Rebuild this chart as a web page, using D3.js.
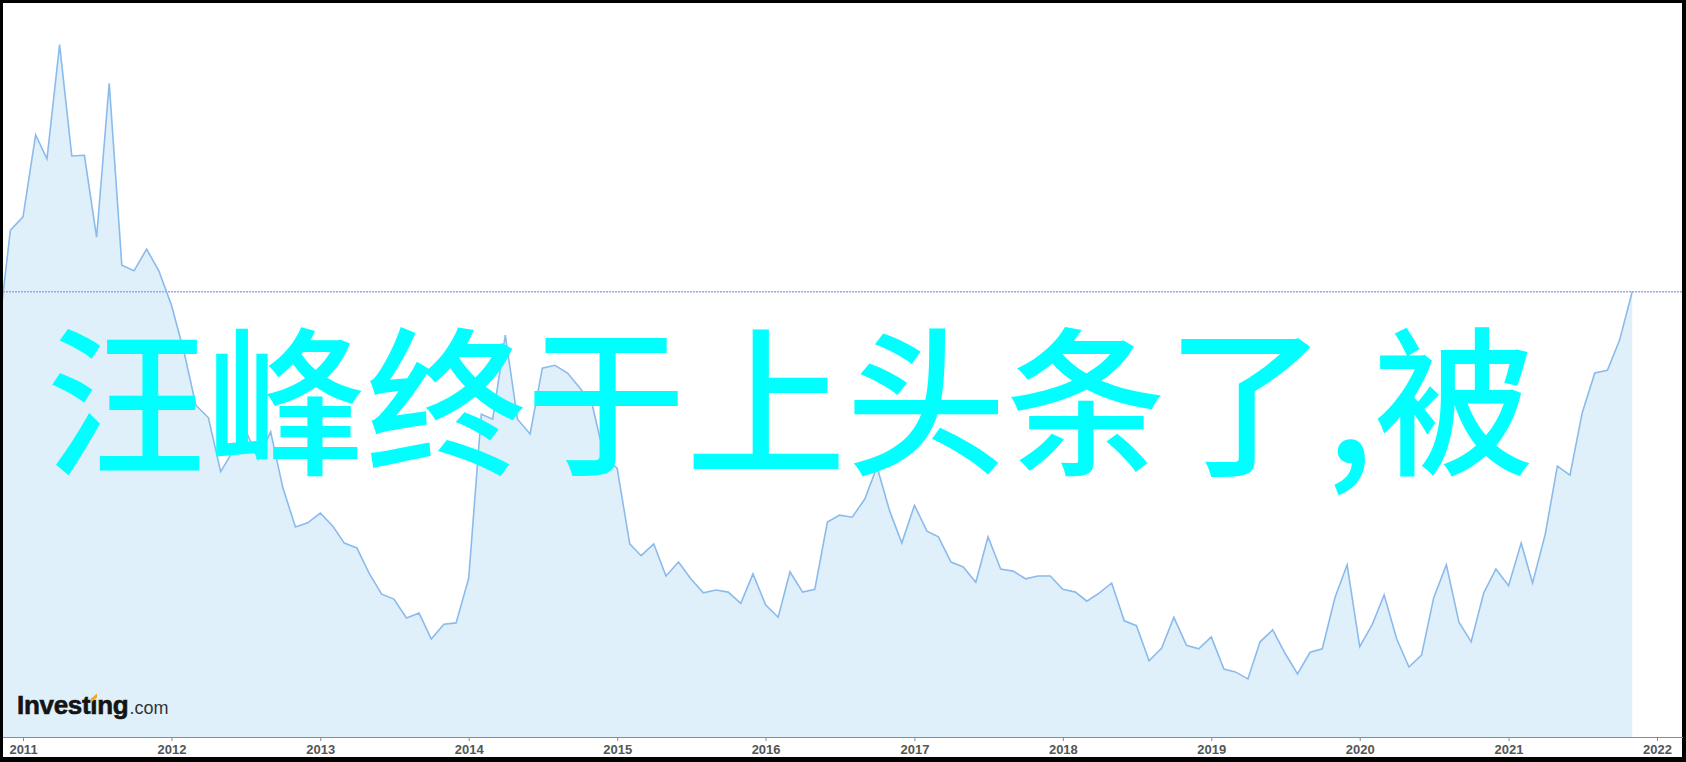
<!DOCTYPE html>
<html>
<head>
<meta charset="utf-8">
<script src="https://cdn.jsdelivr.net/npm/d3@7/dist/d3.min.js"></script>
<style>
  html, body { margin: 0; padding: 0; background: #000; }
  svg { display: block; }
</style>
</head>
<body>
<svg id="chart" width="1686" height="762"></svg>
<script>
// ---- data ----
const months = [
  "2010-11","2010-12",
  "2011-01","2011-02","2011-03","2011-04","2011-05","2011-06","2011-07","2011-08","2011-09","2011-10","2011-11","2011-12",
  "2012-01","2012-02","2012-03","2012-04","2012-05","2012-06","2012-07","2012-08","2012-09","2012-10","2012-11","2012-12",
  "2013-01","2013-02","2013-03","2013-04","2013-05","2013-06","2013-07","2013-08","2013-09","2013-10","2013-11","2013-12",
  "2014-01","2014-02","2014-03","2014-04","2014-05","2014-06","2014-07","2014-08","2014-09","2014-10","2014-11","2014-12",
  "2015-01","2015-02","2015-03","2015-04","2015-05","2015-06","2015-07","2015-08","2015-09","2015-10","2015-11","2015-12",
  "2016-01","2016-02","2016-03","2016-04","2016-05","2016-06","2016-07","2016-08","2016-09","2016-10","2016-11","2016-12",
  "2017-01","2017-02","2017-03","2017-04","2017-05","2017-06","2017-07","2017-08","2017-09","2017-10","2017-11","2017-12",
  "2018-01","2018-02","2018-03","2018-04","2018-05","2018-06","2018-07","2018-08","2018-09","2018-10","2018-11","2018-12",
  "2019-01","2019-02","2019-03","2019-04","2019-05","2019-06","2019-07","2019-08","2019-09","2019-10","2019-11","2019-12",
  "2020-01","2020-02","2020-03","2020-04","2020-05","2020-06","2020-07","2020-08","2020-09","2020-10","2020-11","2020-12",
  "2021-01","2021-02","2021-03","2021-04","2021-05","2021-06","2021-07","2021-08","2021-09","2021-10","2021-11"
];
const values = [
  57.4, 72.4,
  74.3, 86.0, 82.6, 98.9, 83.0, 83.1, 71.4, 93.4, 67.4, 66.6, 69.7, 66.6,
  61.7, 55.0, 47.4, 45.6, 37.9, 40.9, 43.9, 39.7, 43.6, 35.6, 30.0, 30.6,
  32.0, 30.1, 27.7, 27.0, 23.4, 20.4, 19.7, 17.0, 17.7, 14.0, 16.1, 16.3,
  22.7, 46.1, 45.4, 57.4, 45.4, 43.3, 52.7, 53.1, 52.0, 49.9, 47.4, 39.9,
  38.4, 27.6, 25.9, 27.6, 23.0, 25.0, 22.6, 20.6, 21.0, 20.7, 19.1, 23.3,
  18.9, 17.1, 23.6, 20.7, 21.1, 30.7, 31.7, 31.4, 34.0, 38.6, 32.3, 27.7,
  33.1, 29.4, 28.6, 25.0, 24.3, 22.1, 28.6, 24.0, 23.7, 22.6, 23.0, 23.0,
  21.1, 20.7, 19.4, 20.6, 22.0, 16.6, 15.9, 10.9, 12.7, 17.1, 13.1, 12.6,
  14.3, 9.7, 9.3, 8.3, 13.6, 15.3, 12.0, 9.0, 12.1, 12.6, 19.9, 24.6,
  12.9, 16.1, 20.3, 14.0, 10.0, 11.7, 19.9, 24.6, 16.4, 13.6, 20.6, 24.0,
  21.6, 27.7, 22.0, 28.9, 38.7, 37.4, 46.3, 52.0, 52.4, 56.7, 63.6
];
const tickYears = ["2011","2012","2013","2014","2015","2016","2017","2018","2019","2020","2021","2022"];
const overlayText = "汪峰终于上头条了,被";
const logoMain = "Investing";
const logoSuffix = ".com";

// ---- layout ----
const W = 1686, H = 762;
const inner = {x0: 3, y0: 3, x1: 1682, y1: 757};
const plot = {left: 3, right: 1682, top: 3, bottom: 737};

const parse = d3.timeParse("%Y-%m");
const data = months.map((m, i) => ({date: parse(m), value: values[i]}));

const x = d3.scaleTime()
  .domain([parse(tickYears[0] + "-01"), parse(tickYears[tickYears.length - 1] + "-01")])
  .range([23, 1657]);
const y = d3.scaleLinear().domain([0, 100]).range([plot.bottom, plot.bottom - 700]);

const svg = d3.select("#chart");

svg.append("rect").attr("x", 0).attr("y", 0).attr("width", W).attr("height", H).attr("fill", "#000");
svg.append("rect").attr("x", inner.x0).attr("y", inner.y0)
  .attr("width", inner.x1 - inner.x0).attr("height", inner.y1 - inner.y0).attr("fill", "#fff");

svg.append("defs").append("clipPath").attr("id", "clip")
  .append("rect").attr("x", plot.left).attr("y", plot.top)
  .attr("width", plot.right - plot.left).attr("height", plot.bottom - plot.top);

const g = svg.append("g").attr("clip-path", "url(#clip)");

const area = d3.area().x(d => x(d.date)).y0(plot.bottom).y1(d => y(d.value));
const line = d3.line().x(d => x(d.date)).y(d => y(d.value));

g.append("path").datum(data).attr("d", area).attr("fill", "#e0f0fa");
g.append("path").datum(data).attr("d", line)
  .attr("fill", "none").attr("stroke", "#8bbbec").attr("stroke-width", 1.6)
  .attr("stroke-linejoin", "miter");

// last value reference line
const last = data[data.length - 1];
g.append("line")
  .attr("x1", plot.left).attr("x2", plot.right)
  .attr("y1", y(last.value)).attr("y2", y(last.value))
  .attr("stroke", "#93a9ee").attr("stroke-width", 1.5).attr("stroke-dasharray", "2,1");

// axis
svg.append("line").attr("x1", plot.left).attr("x2", plot.right + 1)
  .attr("y1", plot.bottom + 0.5).attr("y2", plot.bottom + 0.5)
  .attr("stroke", "#8a8a8a").attr("stroke-width", 1.2);

const tickDates = tickYears.map(t => parse(t + "-01"));
const axis = d3.axisBottom(x).tickValues(tickDates)
  .tickFormat((d, i) => tickYears[i]).tickSize(4).tickPadding(4);
const ax = svg.append("g").attr("transform", `translate(0,${plot.bottom})`).call(axis);
ax.select(".domain").remove();
ax.selectAll(".tick line").attr("stroke", "#8a8a8a");
ax.selectAll(".tick text")
  .attr("fill", "#555").attr("font-family", "Liberation Sans, Arial, sans-serif")
  .attr("font-weight", "bold").attr("font-size", 13);

// logo
const logo = svg.append("text").attr("x", 17).attr("y", 714)
  .attr("font-family", "Liberation Sans, Arial, sans-serif");
logo.append("tspan").text(logoMain)
  .attr("font-weight", "bold").attr("font-size", 26).attr("fill", "#141414")
  .attr("stroke", "#141414").attr("stroke-width", 0.6)
  .attr("letter-spacing", -0.3);
logo.append("tspan").text(logoSuffix)
  .attr("font-size", 18).attr("fill", "#333").attr("dx", 1);
// orange dot on the second "i"
const iIdx = logoMain.lastIndexOf("i");
const ip = logo.node().getStartPositionOfChar(iIdx);
const iw = logo.node().getExtentOfChar(iIdx).width;
svg.append("rect").attr("x", ip.x + iw / 2 - 4).attr("y", ip.y - 21)
  .attr("width", 8).attr("height", 6.5).attr("fill", "#e0f0fa");
svg.append("path")
  .attr("d", `M${ip.x + iw / 2 - 3.2},${ip.y - 15} l6.4,-5.5 l0,4 l-6.4,5.5 z`)
  .attr("fill", "#f5a623");

// overlay title
svg.append("text").attr("x", 46).attr("y", 463)
  .attr("font-family", "Noto Sans CJK SC, sans-serif")
  .attr("font-size", 160).attr("font-weight", 500)
  .attr("fill", "#00ffff").text(overlayText);
</script>
</body>
</html>
